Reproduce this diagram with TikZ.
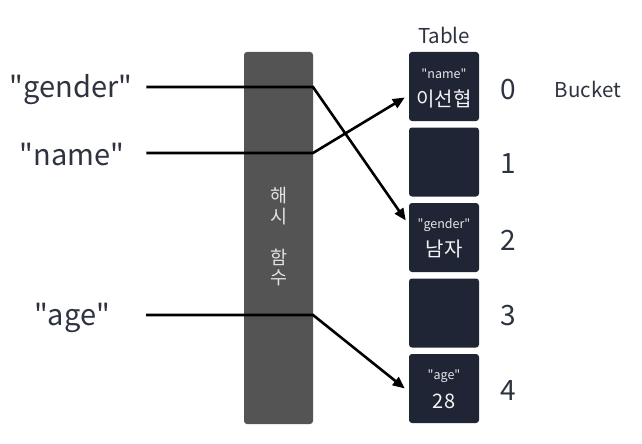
\documentclass[tikz,border=0pt]{standalone}
\usepackage{fontspec}
\setmainfont{Noto Sans CJK KR}[Ligatures=TeXOff]
\usetikzlibrary{arrows.meta,calc}
\definecolor{barcol}{HTML}{545454}
\definecolor{boxcol}{HTML}{1F2535}
\definecolor{txtcol}{HTML}{2E3340}
\definecolor{bartxt}{HTML}{E2E2E2}
\newcommand\qq{\symbol{34}}
\tikzset{
  keytext/.style={text=txtcol,font=\fontsize{29}{32}\selectfont,inner sep=0pt},
  bucket/.style={fill=boxcol,draw=none,rounded corners=3pt,minimum width=70pt,minimum height=69pt,inner sep=0pt},
  bkey/.style={text=white!88!boxcol,font=\fontsize{12.5}{14}\selectfont,inner sep=0pt},
  bval/.style={text=white!95!boxcol,font=\fontsize{20}{22}\selectfont,inner sep=0pt},
  idx/.style={text=txtcol,font=\fontsize{28}{30}\selectfont,inner sep=0pt},
  caption/.style={text=txtcol,font=\fontsize{20.5}{23}\selectfont,inner sep=0pt},
  bartext/.style={text=bartxt,font=\fontsize{18.5}{20}\selectfont,inner sep=0pt},
  link/.style={line width=2.6pt,black},
  linkarrow/.style={link,-{Triangle[length=12pt,width=10pt]}},
}
\begin{document}
\begin{tikzpicture}[x=1pt,y=-1pt]
\useasboundingbox[fill=white] (0,0) rectangle (642,444);
% hash function bar
\node[fill=barcol,rounded corners=3pt,minimum width=69pt,minimum height=372pt,inner sep=0pt] (bar) at (278.5,238) {};
\node[bartext] (h1) at (279,196) {해};
\node[bartext] (h2) at (279,217) {시};
\node[bartext] (h3) at (279,257) {함};
\node[bartext] (h4) at (279,278) {수};
% table
\node[caption] (tbl) at (444,35) {Table};
\node[bucket] (b0) at (444,86.5) {};
\node[bucket] (b1) at (444,162) {};
\node[bucket] (b2) at (444,237.5) {};
\node[bucket] (b3) at (444,313) {};
\node[bucket] (b4) at (444,388.5) {};
\node[bkey] (b0k) at ([yshift=12.5pt]b0.center) {\qq name\qq};
\node[bval] (b0v) at ([yshift=-12pt]b0.center) {이선협};
\node[bkey] (b2k) at ([yshift=12.5pt]b2.center) {\qq gender\qq};
\node[bval] (b2v) at ([yshift=-12pt]b2.center) {남자};
\node[bkey] (b4k) at ([yshift=12.5pt]b4.center) {\qq age\qq};
\node[bval] (b4v) at ([yshift=-13pt]b4.center) {28};
\node[idx] (i0) at (508,90) {0};
\node[idx] (i1) at (508,164) {1};
\node[idx] (i2) at (508,240) {2};
\node[idx] (i3) at (508,316) {3};
\node[idx] (i4) at (508,391) {4};
\node[caption] (bkt) at (588,89) {Bucket};
% keys
\node[keytext] (kg) at (71,90) {\qq gender\qq};
\node[keytext] (kn) at (72,155) {\qq name\qq};
\node[keytext] (ka) at (72,318) {\qq age\qq};
% bends
\coordinate (cg) at (313,87);
\coordinate (cn) at (313,153);
\coordinate (ca) at (313,315);
\coordinate (tg) at ($(b2.west)+(-3,-17)$);
\coordinate (tn) at ($(b0.west)+(-4,11)$);
\coordinate (ta) at ($(b4.west)+(-4,0)$);
\draw[linkarrow] (kg.east|-cg) ++(14,0) -- (cg) -- (tg);
\draw[linkarrow] (kn.east|-cn) ++(22,0) -- (cn) -- (tn);
\draw[linkarrow] (ka.east|-ca) ++(36,0) -- (ca) -- (ta);
\end{tikzpicture}
\end{document}
